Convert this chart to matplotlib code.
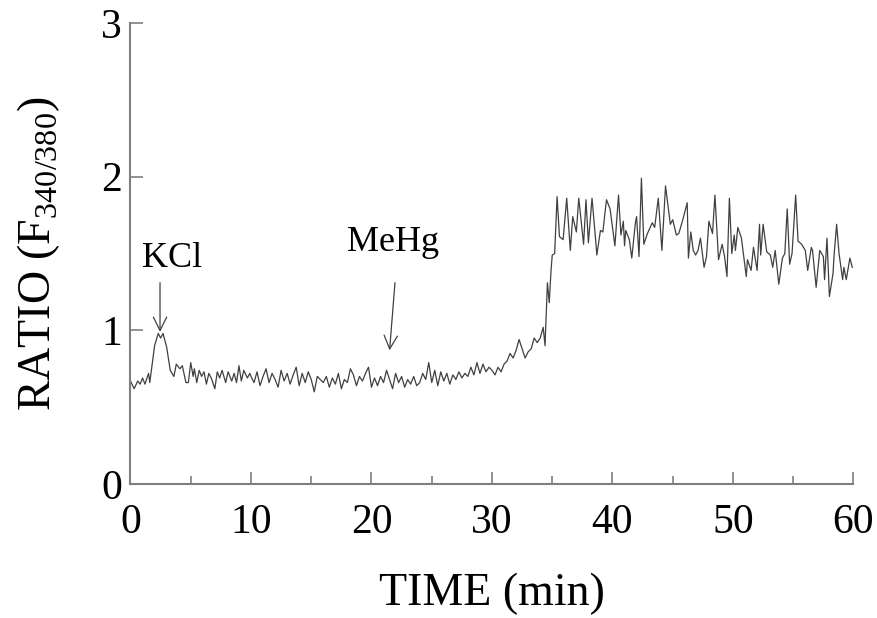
import matplotlib
matplotlib.use('Agg')
import matplotlib.pyplot as plt

plt.rcParams['font.family'] = 'Liberation Serif'
plt.rcParams['mathtext.fontset'] = 'custom'
plt.rcParams['mathtext.rm'] = 'Liberation Serif'

# time (min) and fluorescence ratio
time_min = [
    0.0, 0.3, 0.6, 0.8, 1.0, 1.2, 1.5, 1.6, 2.0, 2.3, 2.5, 2.7, 3.0, 3.3,
    3.6, 3.8, 4.1, 4.3, 4.6, 4.8, 5.0, 5.2, 5.3, 5.5, 5.7, 5.9, 6.1, 6.3,
    6.5, 6.7, 7.0, 7.2, 7.4, 7.6, 7.9, 8.1, 8.4, 8.6, 8.8, 9.0, 9.2, 9.4,
    9.7, 9.9,
    10.0, 10.25, 10.5, 10.75, 11.0, 11.25, 11.5, 11.75, 12.0, 12.25, 12.5,
    12.75, 13.0, 13.25, 13.5, 13.75, 14.0, 14.25, 14.5, 14.75, 15.0, 15.25,
    15.5, 15.75, 16.0, 16.25, 16.5, 16.75, 17.0, 17.25, 17.5, 17.75, 18.0,
    18.25, 18.5, 18.75, 19.0, 19.25, 19.5, 19.75,
    20.0, 20.25, 20.5, 20.75, 21.0, 21.25, 21.5, 21.75, 22.0, 22.25, 22.5,
    22.75, 23.0, 23.25, 23.5, 23.75, 24.0, 24.25, 24.5, 24.75, 25.0, 25.25,
    25.5, 25.75, 26.0, 26.25, 26.5, 26.75, 27.0, 27.25, 27.5, 27.75, 28.0,
    28.25, 28.5, 28.75, 29.0, 29.25, 29.5, 29.75,
    30.0, 30.25, 30.5, 30.75, 31.0, 31.25, 31.5, 31.75, 32.0, 32.25, 32.5,
    32.75, 33.0, 33.25, 33.5, 33.75, 34.0, 34.25, 34.4, 34.6, 34.75, 34.9,
    35.0, 35.2, 35.4, 35.6, 35.9, 36.2, 36.5, 36.7, 37.0, 37.2, 37.6, 37.8,
    38.0, 38.3, 38.6, 38.7, 39.0, 39.2, 39.5, 39.8,
    40.2, 40.5, 40.7, 40.9, 41.0, 41.1, 41.4, 41.6, 41.9, 42.0, 42.2, 42.4,
    42.6, 42.9, 43.3, 43.5, 43.8, 44.1, 44.4, 44.8, 45.0, 45.3, 45.5, 45.8,
    46.2, 46.3, 46.5, 46.7, 46.9, 47.1, 47.3, 47.6, 47.8, 48.0, 48.3, 48.5,
    48.8, 49.1, 49.3, 49.5, 49.7, 49.9,
    50.1, 50.2, 50.4, 50.7, 51.1, 51.2, 51.5, 51.7, 52.0, 52.2, 52.3, 52.5,
    52.8, 53.1, 53.3, 53.5, 53.8, 54.1, 54.3, 54.5, 54.7, 54.9, 55.2, 55.4,
    55.7, 56.0, 56.2, 56.5, 56.6, 56.9, 57.2, 57.5, 57.6, 57.8, 58.0, 58.3,
    58.4, 58.6, 58.8, 59.1, 59.2, 59.4, 59.7, 59.9,
]
ratio = [
    0.67, 0.62, 0.67, 0.65, 0.69, 0.65, 0.72, 0.66, 0.90, 0.98, 0.95, 0.98, 0.89, 0.74,
    0.70, 0.78, 0.75, 0.77, 0.66, 0.66, 0.79, 0.70, 0.75, 0.66, 0.74, 0.70, 0.73, 0.65,
    0.72, 0.69, 0.62, 0.73, 0.69, 0.74, 0.66, 0.73, 0.67, 0.72, 0.66, 0.77, 0.67, 0.74,
    0.69, 0.72,
    0.70, 0.66, 0.73, 0.64, 0.70, 0.75, 0.66, 0.72, 0.68, 0.63, 0.74,
    0.67, 0.72, 0.65, 0.71, 0.76, 0.64, 0.72, 0.66, 0.73, 0.68, 0.60,
    0.70, 0.68, 0.66, 0.70, 0.63, 0.69, 0.65, 0.72, 0.62, 0.68, 0.66,
    0.75, 0.71, 0.64, 0.70, 0.67, 0.72, 0.76,
    0.63, 0.69, 0.64, 0.70, 0.66, 0.74, 0.68, 0.62, 0.72, 0.66, 0.70,
    0.63, 0.68, 0.65, 0.70, 0.64, 0.66, 0.72, 0.68, 0.79, 0.66, 0.74,
    0.64, 0.73, 0.67, 0.72, 0.65, 0.71, 0.68, 0.73, 0.69, 0.72, 0.70,
    0.76, 0.71, 0.79, 0.72, 0.78, 0.73, 0.76,
    0.74, 0.71, 0.76, 0.73, 0.78, 0.80, 0.85, 0.82, 0.87, 0.94, 0.88,
    0.82, 0.86, 0.88, 0.95, 0.92, 0.95, 1.02, 0.90, 1.31, 1.18, 1.39,
    1.49, 1.50, 1.87, 1.61, 1.59, 1.86, 1.52, 1.74, 1.64, 1.86, 1.56, 1.85,
    1.57, 1.86, 1.59, 1.49, 1.65, 1.64, 1.85, 1.79,
    1.55, 1.88, 1.62, 1.71, 1.55, 1.65, 1.59, 1.47, 1.70, 1.74, 1.48, 1.99,
    1.56, 1.63, 1.70, 1.67, 1.86, 1.52, 1.94, 1.69, 1.72, 1.62, 1.63, 1.71,
    1.83, 1.47, 1.64, 1.52, 1.49, 1.52, 1.60, 1.41, 1.48, 1.71, 1.63, 1.88,
    1.46, 1.56, 1.48, 1.35, 1.86, 1.50,
    1.62, 1.52, 1.67, 1.60, 1.35, 1.46, 1.39, 1.54, 1.39, 1.69, 1.49, 1.69,
    1.51, 1.49, 1.41, 1.52, 1.30, 1.47, 1.50, 1.79, 1.43, 1.50, 1.88, 1.58,
    1.56, 1.52, 1.39, 1.54, 1.52, 1.28, 1.52, 1.48, 1.33, 1.60, 1.22, 1.37,
    1.50, 1.69, 1.50, 1.33, 1.41, 1.33, 1.47, 1.41,
]

x_ticks = [0, 10, 20, 30, 40, 50, 60]
y_ticks = [0, 1, 2, 3]
axis_grey = '#7f7f7f'
trace_color = '#404040'

fig = plt.figure(figsize=(8.77, 6.18), dpi=100)
ax = fig.add_axes([0.1488, 0.2168, 0.8244, 0.746])

ax.plot(time_min, ratio, color=trace_color, linewidth=0.9)

ax.set_xlim(0, 60)
ax.set_ylim(0, 3)
ax.set_xticks(x_ticks)
ax.set_xticks([5, 15, 25, 35, 45, 55], minor=True)
ax.set_yticks(y_ticks)

for side in ['top', 'right']:
    ax.spines[side].set_visible(False)
for side in ['left', 'bottom']:
    ax.spines[side].set_color(axis_grey)
    ax.spines[side].set_linewidth(1.5)

ax.tick_params(axis='both', which='major', direction='in', length=9,
               width=1.2, color=axis_grey, labelsize=30)
ax.tick_params(axis='x', which='minor', direction='in', length=6,
               width=1.2, color=axis_grey)
ax.tick_params(axis='x', pad=14)
ax.tick_params(axis='y', pad=6)

ax.set_xlabel('TIME (min)', fontsize=33, labelpad=22)
ax.set_ylabel(r'RATIO (F$_{\mathregular{340/380}}$)', fontsize=33, labelpad=28)

# markers for drug additions
ax.text(3.45, 1.47, 'KCl', ha='center', va='center', fontsize=26)
ax.annotate('', xy=(2.45, 0.99), xytext=(2.45, 1.31),
            arrowprops=dict(arrowstyle='->', color=trace_color, lw=0.9,
                            mutation_scale=24, shrinkA=0, shrinkB=0))
ax.text(21.8, 1.57, 'MeHg', ha='center', va='center', fontsize=26)
ax.annotate('', xy=(21.5, 0.87), xytext=(21.95, 1.31),
            arrowprops=dict(arrowstyle='->', color=trace_color, lw=0.9,
                            mutation_scale=24, shrinkA=0, shrinkB=0))

fig.savefig('out.png', dpi=100)
